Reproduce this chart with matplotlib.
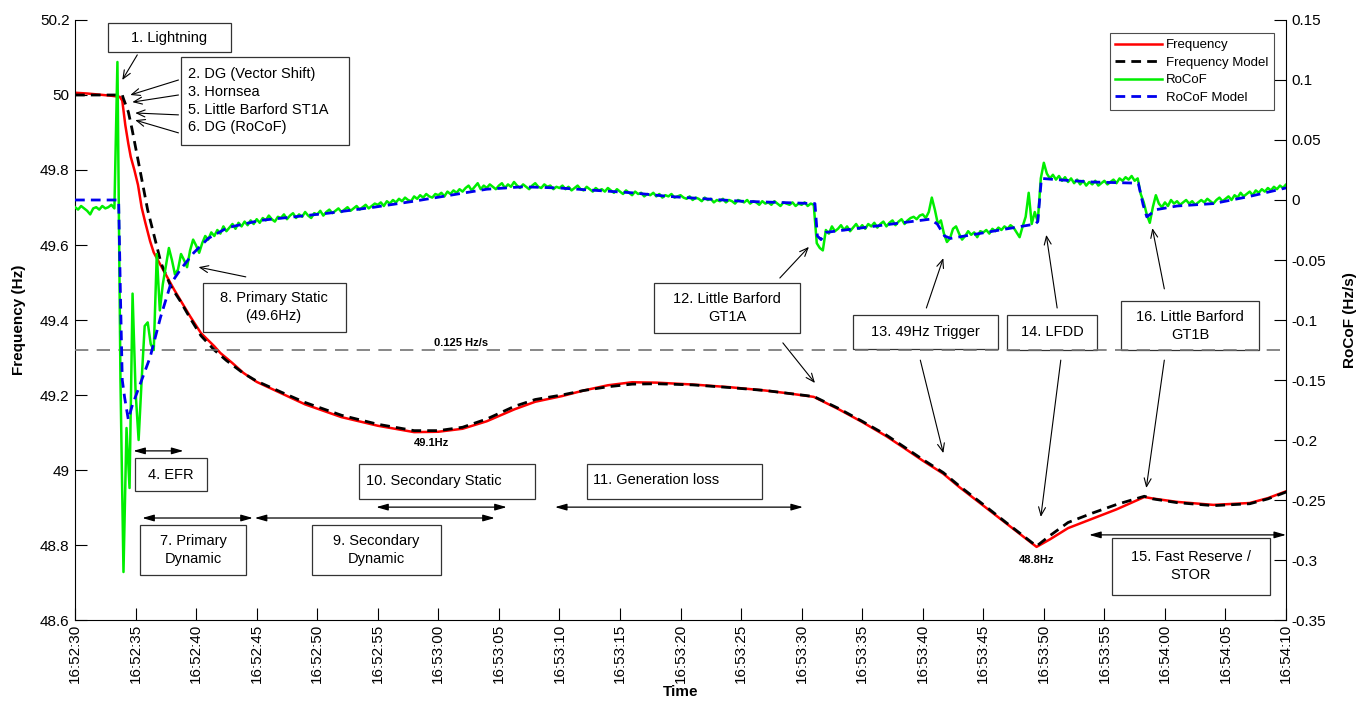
import numpy as np
import matplotlib.pyplot as plt
from matplotlib.patches import Rectangle

plt.rcParams['font.family'] = ['Liberation Sans', 'DejaVu Sans']

# measured frequency (seconds after 16:52:30, Hz)
freq_t = [0, 1, 2, 3, 3.7, 3.9, 4.15, 4.4, 4.6, 4.9, 5.2, 5.5, 5.8, 6.2, 6.5, 7.0, 7.6, 8.2, 8.7,
          9.5, 10.4, 11.5, 12.0, 13.0, 13.9, 15.0, 16.0, 17.0, 19.0, 22.0, 25.0, 28.0, 30.0, 32.0,
          34.0, 36.3, 38.0, 40.2, 42.0, 44.0, 46.0, 48.0, 51.0, 54.0, 57.0, 59.0, 61.0, 63.0, 65.0,
          67.0, 68.4, 70.0, 71.7, 73.0, 75.0, 77.0, 79.4, 80.5, 82.0, 84.0, 86.0, 88.3, 89.0, 91.0,
          94.0, 97.0, 98.5, 100.4]
freq_hz = [50.006, 50.004, 50.001, 49.998, 49.995, 49.985, 49.92, 49.87, 49.835, 49.80, 49.76,
           49.70, 49.66, 49.61, 49.58, 49.55, 49.515, 49.48, 49.453, 49.41, 49.365, 49.33, 49.312,
           49.285, 49.259, 49.235, 49.22, 49.205, 49.175, 49.141, 49.118, 49.101, 49.102, 49.11,
           49.13, 49.162, 49.182, 49.197, 49.212, 49.226, 49.234, 49.233, 49.228, 49.221, 49.212,
           49.204, 49.195, 49.163, 49.128, 49.09, 49.06, 49.025, 48.99, 48.955, 48.905, 48.855,
           48.795, 48.815, 48.845, 48.87, 48.895, 48.928, 48.924, 48.915, 48.907, 48.912, 48.925,
           48.948]

# frequency model
model_t = [0, 3.9, 4.0, 4.4, 4.7, 5.2, 6.0, 7.1, 7.9, 8.7, 9.5, 10.4, 11.5, 12.5, 13.9, 15.0, 17.0,
           19.0, 22.0, 25.0, 28.0, 30.0, 32.0, 34.0, 36.3, 38.0, 40.2, 42.0, 44.0, 46.0, 48.0, 51.0,
           54.0, 57.0, 59.0, 61.0, 63.0, 65.0, 67.0, 68.4, 70.0, 71.7, 73.0, 75.0, 77.0, 79.4, 80.5,
           82.0, 84.0, 86.0, 88.3, 89.0, 91.0, 94.0, 97.0, 98.5, 100.4]
model_hz = [50.0, 50.0, 49.99, 49.955, 49.91, 49.827, 49.693, 49.552, 49.49, 49.45, 49.405, 49.358,
            49.32, 49.292, 49.258, 49.237, 49.208, 49.18, 49.146, 49.122, 49.105, 49.105, 49.114,
            49.136, 49.17, 49.188, 49.2, 49.212, 49.222, 49.229, 49.23, 49.227, 49.22, 49.212,
            49.204, 49.196, 49.165, 49.13, 49.093, 49.063, 49.028, 48.993, 48.958, 48.908, 48.857,
            48.797, 48.825, 48.86, 48.885, 48.908, 48.93, 48.923, 48.913, 48.905, 48.91, 48.923,
            48.946]

# measured RoCoF, mHz/s, one sample every 0.25 s from 16:52:30
rocof_dt = 0.25
rocof_mhz = [
    -6, -8, -5, -7, -9, -12, -7, -6, -8, -5, -7, -6, -4, -7, 115, -150, -310, -190, -240, -78,
    -160, -200, -150, -105, -102, -120, -125, -45, -92, -70, -55, -40, -50, -62, -58, -45, -50, -56, -42, -33,
    -38, -44, -36, -30, -33, -27, -30, -25, -28, -22, -26, -23, -20, -24, -19, -22, -18, -21, -17, -20,
    -16, -19, -15, -17, -13, -16, -18, -14, -15, -12, -16, -13, -11, -15, -12, -14, -10, -13, -15, -11,
    -12, -9, -13, -10, -8, -11, -9, -7, -10, -8, -6, -9, -7, -5, -8, -6, -4, -7, -5, -3,
    -4, -2, -5, -1, -3, 0, -2, 1, -1, 2, 0, -1, 3, 1, 4, 2, 5, 3, 2, 5,
    4, 6, 3, 7, 5, 8, 6, 9, 7, 10, 12, 8, 11, 14, 9, 12, 10, 13, 11, 9,
    12, 14, 10, 13, 11, 15, 12, 10, 13, 11, 9, 12, 14, 11, 10, 13, 11, 12, 9, 11,
    10, 12, 9, 11, 8, 10, 12, 9, 8, 11, 9, 7, 10, 8, 9, 7, 10, 8, 6, 9,
    7, 5, 8, 6, 4, 7, 5, 6, 3, 5, 4, 6, 3, 5, 2, 4, 3, 5, 2, 3,
    4, 2, 1, 3, 0, 2, 1, -1, 2, 0, 1, -2, 0, -1, 1, -2, 0, -1, -3, 0,
    -1, -2, 0, -3, -1, -2, -4, -1, -3, -2, -4, -1, -3, -5, -2, -3, -4, -2, -5, -3,
    -4, -2, -5, -3, -4, -36, -40, -42, -25, -28, -22, -26, -24, -21, -25, -22, -26, -23, -20, -24,
    -21, -24, -20, -22, -19, -23, -20, -18, -22, -19, -17, -21, -18, -16, -20, -17, -15, -14, -16, -13,
    -12, -15, -10, 2, -8, -20, -17, -28, -35, -32, -24, -22, -28, -33, -30, -26, -29, -27, -31, -26,
    -27, -25, -28, -24, -26, -23, -25, -22, -24, -21, -23, -27, -31, -22, -14, 6, -20, -10, -18, 18,
    31, 22, 18, 21, 17, 20, 16, 19, 15, 18, 14, 17, 13, 16, 12, 15, 13, 16, 12, 14,
    16, 13, 15, 17, 14, 18, 16, 19, 17, 20, 16, 18, 5, -2, -12, -19, -6, 4, -3, -6,
    -2, -5, 0, -3, -1, -4, -2, 0, -3, -1, -4, -2, 0, -2, 1, -1, -3, 0, 2, -1,
    1, 3, 0, 4, 2, 6, 3, 5, 7, 4, 8, 6, 9, 7, 10, 8, 11, 9, 12, 10,
    13, 11, 12,
]

# RoCoF model, mHz/s
rmodel_t = [0, 3.6, 3.75, 3.9, 4.1, 4.4, 4.7, 5.1, 6.2, 7.05, 7.9, 8.7, 9.8, 11.0, 12.6, 15.3, 20.9,
            24.7, 28.0, 31.0, 34.0, 37.0, 40.0, 43.0, 46.0, 49.0, 52.0, 55.0, 58.0, 61.1, 61.3, 61.6,
            62.0, 70.6, 71.2, 71.8, 72.3, 79.3, 79.5, 79.8, 81.0, 84.0, 87.8, 88.2, 88.5, 89.3, 91.0,
            94.0, 97.0, 100.4]
rmodel_mhz = [0, 0, -80, -150, -165, -183, -172, -161, -131, -98, -70, -58, -44, -32, -23, -17, -11,
              -6, -1, 4, 9, 11, 10, 8, 6, 3, 1, -1, -2, -3, -30, -33, -27, -16, -20, -30, -32, -20,
              -18, 18, 17, 15, 14, -4, -14, -8, -5, -3, 3, 11]

rocof_limit = -0.125

time_ticks = list(range(0, 101, 5))
time_labels = ['16:52:30', '16:52:35', '16:52:40', '16:52:45', '16:52:50', '16:52:55', '16:53:00',
               '16:53:05', '16:53:10', '16:53:15', '16:53:20', '16:53:25', '16:53:30', '16:53:35',
               '16:53:40', '16:53:45', '16:53:50', '16:53:55', '16:54:00', '16:54:05', '16:54:10']
freq_ticks = [48.6, 48.8, 49.0, 49.2, 49.4, 49.6, 49.8, 50.0, 50.2]
freq_labels = ['48.6', '48.8', '49', '49.2', '49.4', '49.6', '49.8', '50', '50.2']
rocof_ticks = [-0.35, -0.3, -0.25, -0.2, -0.15, -0.1, -0.05, 0, 0.05, 0.1, 0.15]
rocof_labels = ['-0.35', '-0.3', '-0.25', '-0.2', '-0.15', '-0.1', '-0.05', '0', '0.05', '0.1', '0.15']

rocof_t = np.arange(len(rocof_mhz)) * rocof_dt
rocof = np.array(rocof_mhz) / 1000.0
rmodel = np.array(rmodel_mhz) / 1000.0

fig = plt.figure(figsize=(13.57, 7.04), dpi=100)
ax = fig.add_axes([0.0553, 0.1193, 0.8924, 0.8523])
ax2 = ax.twinx()

l_f, = ax.plot(freq_t, freq_hz, color='red', lw=1.8, label='Frequency')
l_fm, = ax.plot(model_t, model_hz, color='black', lw=2.0, ls='--', dashes=(3.5, 2.2),
                label='Frequency Model')
l_r, = ax2.plot(rocof_t, rocof, color='#00ee00', lw=1.8, label='RoCoF')
l_rm, = ax2.plot(rmodel_t, rmodel, color='#0000ee', lw=2.0, ls='--', dashes=(3.5, 2.2),
                 label='RoCoF Model')
ax2.axhline(rocof_limit, color='0.45', lw=1.2, ls='--', dashes=(8, 5), zorder=1)

ax.set_xlim(0, 100)
ax.set_ylim(48.6, 50.2)
ax2.set_ylim(-0.35, 0.15)
ax.set_xticks(time_ticks)
ax.set_xticklabels(time_labels, rotation=90)
ax.set_yticks(freq_ticks)
ax.set_yticklabels(freq_labels)
ax2.set_yticks(rocof_ticks)
ax2.set_yticklabels(rocof_labels)

for a in (ax, ax2):
    a.tick_params(direction='in', length=8.5, width=0.8, labelsize=11, pad=4)
    a.spines['top'].set_visible(False)
ax.tick_params(axis='x', pad=3)
ax.spines['right'].set_visible(False)
ax2.spines['left'].set_visible(False)
ax2.spines['bottom'].set_visible(False)

ax.set_xlabel('Time', fontsize=11, fontweight='bold', labelpad=1)
ax.set_ylabel('Frequency (Hz)', fontsize=11, fontweight='bold', labelpad=10)
ax2.set_ylabel('RoCoF (Hz/s)', fontsize=11, fontweight='bold', labelpad=12)

leg = ax2.legend(handles=[l_f, l_fm, l_r, l_rm], loc='upper right', bbox_to_anchor=(0.990, 0.978),
                 borderaxespad=0, fontsize=9.5, handlelength=3.5, handletextpad=0.3, borderpad=0.45,
                 labelspacing=0.4, fancybox=False, edgecolor='0.3', framealpha=1)
leg.get_frame().set_linewidth(0.8)

# annotation boxes: (t0, t1, f_bottom, f_top)
def box(t0, t1, fb, ft):
    ax.add_patch(Rectangle((t0, fb), t1 - t0, ft - fb, fill=False, ec='0.2', lw=0.9, zorder=5))

def note(t, f, s, ha='center'):
    ax.text(t, f, s, ha=ha, va='center', fontsize=10.5, linespacing=1.35, zorder=6)

def arrow(tail, tip):
    ax.annotate('', xy=tip, xytext=tail,
                arrowprops=dict(arrowstyle='->,head_length=0.6,head_width=0.25', lw=0.8,
                                color='black', shrinkA=0, shrinkB=0), zorder=6)

def span(t0, t1, f):
    ax.annotate('', xy=(t1, f), xytext=(t0, f),
                arrowprops=dict(arrowstyle='<|-|>,head_length=0.7,head_width=0.2', lw=0.9,
                                color='black', shrinkA=0, shrinkB=0), zorder=6)

box(2.74, 12.85, 50.115, 50.192)
note(7.8, 50.153, '1. Lightning')
arrow((5.14, 50.107), (3.9, 50.04))

box(8.71, 22.64, 49.867, 50.101)
note(9.3, 49.985, '2. DG (Vector Shift)\n3. Hornsea\n5. Little Barford ST1A\n6. DG (RoCoF)', ha='left')
arrow((8.54, 50.04), (4.56, 50.0))
arrow((8.54, 50.0), (4.73, 49.981))
arrow((8.54, 49.947), (4.97, 49.952))
arrow((8.54, 49.899), (4.97, 49.933))

box(4.97, 10.86, 48.944, 49.032)
note(7.9, 48.988, '4. EFR')
span(4.81, 8.95, 49.051)

box(5.39, 14.1, 48.72, 48.853)
note(9.75, 48.787, '7. Primary\nDynamic')
span(5.55, 14.68, 48.872)

box(19.57, 30.26, 48.72, 48.853)
note(24.9, 48.787, '9. Secondary\nDynamic')
span(14.84, 34.66, 48.872)

box(23.46, 37.97, 48.923, 49.016)
note(24.0, 48.971, '10. Secondary Static', ha='left')
span(24.87, 35.65, 48.901)

box(42.28, 56.71, 48.923, 49.016)
note(42.8, 48.973, '11. Generation loss', ha='left')
span(39.63, 60.11, 48.901)

box(10.53, 22.39, 49.368, 49.499)
note(16.4, 49.435, '8. Primary Static\n(49.6Hz)')
arrow((14.1, 49.515), (10.2, 49.541))

box(47.84, 59.86, 49.365, 49.499)
note(53.85, 49.433, '12. Little Barford\nGT1A')
arrow((58.2, 49.512), (60.6, 49.595))
arrow((58.45, 49.339), (61.1, 49.232))

box(64.26, 76.19, 49.323, 49.413)
note(70.2, 49.368, '13. 49Hz Trigger')
arrow((70.3, 49.432), (71.7, 49.565))
arrow((69.8, 49.293), (71.7, 49.045))

box(76.94, 84.4, 49.32, 49.413)
note(80.67, 49.367, '14. LFDD')
arrow((81.1, 49.432), (80.2, 49.627))
arrow((81.4, 49.293), (79.75, 48.875))

box(86.4, 97.8, 49.32, 49.451)
note(92.1, 49.385, '16. Little Barford\nGT1B')
arrow((89.95, 49.483), (88.96, 49.645))
arrow((89.95, 49.293), (88.46, 48.952))

box(85.65, 98.66, 48.667, 48.819)
note(92.15, 48.743, '15. Fast Reserve /\nSTOR')
span(83.74, 100.0, 48.827)

ax.text(29.43, 49.073, '49.1Hz', ha='center', va='center', fontsize=8, fontweight='bold')
ax.text(79.4, 48.76, '48.8Hz', ha='center', va='center', fontsize=8, fontweight='bold')
ax.text(31.9, 49.339, '0.125 Hz/s', ha='center', va='center', fontsize=8, fontweight='bold')

fig.savefig('out.png', dpi=100)
